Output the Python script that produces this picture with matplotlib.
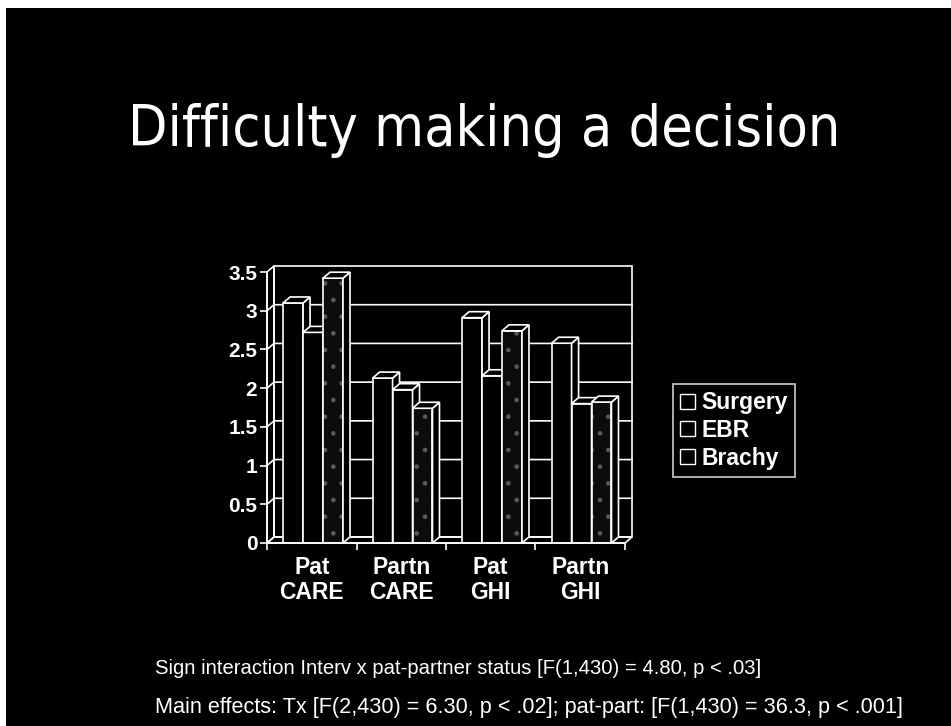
import numpy as np
import matplotlib.pyplot as plt
from matplotlib.patches import Polygon, Patch, Rectangle

# =========================
# data
# =========================
categories = ["Pat\nCARE", "Partn\nCARE", "Pat\nGHI", "Partn\nGHI"]
series = ["Surgery", "EBR", "Brachy"]
surgery = [3.10, 2.13, 2.91, 2.58]
ebr = [2.72, 1.98, 2.16, 1.80]
brachy = [3.42, 1.74, 2.74, 1.82]
yticks = [0, 0.5, 1, 1.5, 2, 2.5, 3, 3.5]
ytick_labels = ["0", "0.5", "1", "1.5", "2", "2.5", "3", "3.5"]

title = "Difficulty making a decision"
note1 = "Sign interaction Interv x pat-partner status [F(1,430) = 4.80, p < .03]"
note2 = "Main effects: Tx [F(2,430) = 6.30, p < .02]; pat-part: [F(1,430) = 36.3, p < .001]"

values = [surgery, ebr, brachy]

# =========================
# figure
# =========================
plt.rcParams["hatch.linewidth"] = 0.9
fig = plt.figure(figsize=(9.51, 7.26), dpi=100, facecolor="black")

# scan border
fig.patches.append(Rectangle((0, 1 - 8 / 726), 1, 8 / 726, transform=fig.transFigure,
                             facecolor="white", edgecolor="none"))
fig.patches.append(Rectangle((0, 0), 6 / 951, 1, transform=fig.transFigure,
                             facecolor="white", edgecolor="none"))

ax = fig.add_axes([267 / 951, 1 - 543 / 726, 358 / 951, 271 / 726])
ax.set_facecolor("black")
ax.set_xlim(0, 4)
ax.set_ylim(0, 3.5)

# depth offset of the fake 3d box
dx = 7 / 89.5
dy = 6 / 77.4
lw = 1.2
wc = "white"

# walls and floor
ax.add_patch(Polygon([(dx, dy), (4 + dx, dy), (4 + dx, 3.5 + dy), (dx, 3.5 + dy)],
                     closed=True, facecolor="none", edgecolor=wc, lw=lw, clip_on=False, zorder=1))
ax.add_patch(Polygon([(0, 0), (dx, dy), (dx, 3.5 + dy), (0, 3.5)],
                     closed=True, facecolor="none", edgecolor=wc, lw=lw, clip_on=False, zorder=1))
ax.add_patch(Polygon([(0, 0), (4, 0), (4 + dx, dy), (dx, dy)],
                     closed=True, facecolor="none", edgecolor=wc, lw=lw, clip_on=False, zorder=1))
for y in yticks[1:-1]:
    ax.plot([0, dx, 4 + dx], [y, y + dy, y + dy], color=wc, lw=lw, clip_on=False, zorder=1)

# bars
bw = 0.223
off = 0.18
x = np.arange(len(categories))
for k, vals in enumerate(values):
    left = x + off + k * bw
    z = 3 + k
    if series[k] == "Brachy":
        ax.bar(left, vals, width=bw, align="edge", facecolor="#0c0c0c", hatch=".",
               edgecolor="#5a5a5a", lw=0, zorder=z)
        ax.bar(left, vals, width=bw, align="edge", facecolor="none",
               edgecolor=wc, lw=lw, zorder=z)
    else:
        ax.bar(left, vals, width=bw, align="edge", facecolor="black",
               edgecolor=wc, lw=lw, zorder=z)
    for x0, v in zip(left, vals):
        x1 = x0 + bw
        ax.add_patch(Polygon([(x1, 0), (x1 + dx, dy), (x1 + dx, v + dy), (x1, v)],
                             closed=True, facecolor="black", edgecolor=wc, lw=lw,
                             clip_on=False, zorder=z))
        ax.add_patch(Polygon([(x0, v), (x1, v), (x1 + dx, v + dy), (x0 + dx, v + dy)],
                             closed=True, facecolor="black", edgecolor=wc, lw=lw,
                             clip_on=False, zorder=z))

# axes styling
for s in ["top", "right"]:
    ax.spines[s].set_visible(False)
for s in ["left", "bottom"]:
    ax.spines[s].set_color(wc)
    ax.spines[s].set_linewidth(lw)
    ax.spines[s].set_zorder(10)

ax.set_yticks(yticks)
ax.set_yticklabels(ytick_labels, color=wc, family="Liberation Sans", weight="bold", size=15)
ax.tick_params(axis="y", colors=wc, length=5, width=lw, pad=2)

ax.set_xticks(np.arange(len(categories) + 1))
ax.set_xticklabels([])
ax.tick_params(axis="x", colors=wc, length=5, width=lw)
ax.set_xticks(x + 0.5, minor=True)
ax.set_xticklabels(categories, minor=True, color=wc, linespacing=1.15,
                   family="Liberation Sans", weight="bold", size=16.5)
ax.tick_params(axis="x", which="minor", length=0, pad=9)

# legend
handles = [Patch(facecolor="black", edgecolor=wc, lw=1) for _ in series]
leg = fig.legend(handles, series, loc="upper left", bbox_to_anchor=(673 / 951, 1 - 384 / 726),
                 borderaxespad=0, frameon=True, fancybox=False, borderpad=0.32,
                 labelspacing=0.2, handlelength=0.62, handleheight=0.62, handletextpad=0.3,
                 prop=dict(family="Liberation Sans", weight="bold", size=16.5))
leg.get_frame().set_facecolor("black")
leg.get_frame().set_edgecolor(wc)
leg.get_frame().set_linewidth(1.2)
for t in leg.get_texts():
    t.set_color(wc)

# title and notes
fig.text(484 / 951, 1 - 130 / 726, title, ha="center", va="center", color=wc,
         fontsize=41, family="DejaVu Sans", fontstretch="condensed")
fig.text(155 / 951, 1 - 668 / 726, note1, ha="left", va="center", color=wc,
         fontsize=14.6, family="Liberation Sans")
fig.text(155 / 951, 1 - 707 / 726, note2, ha="left", va="center", color=wc,
         fontsize=15.6, family="Liberation Sans")

fig.savefig("out.png", dpi=100, facecolor="black")
